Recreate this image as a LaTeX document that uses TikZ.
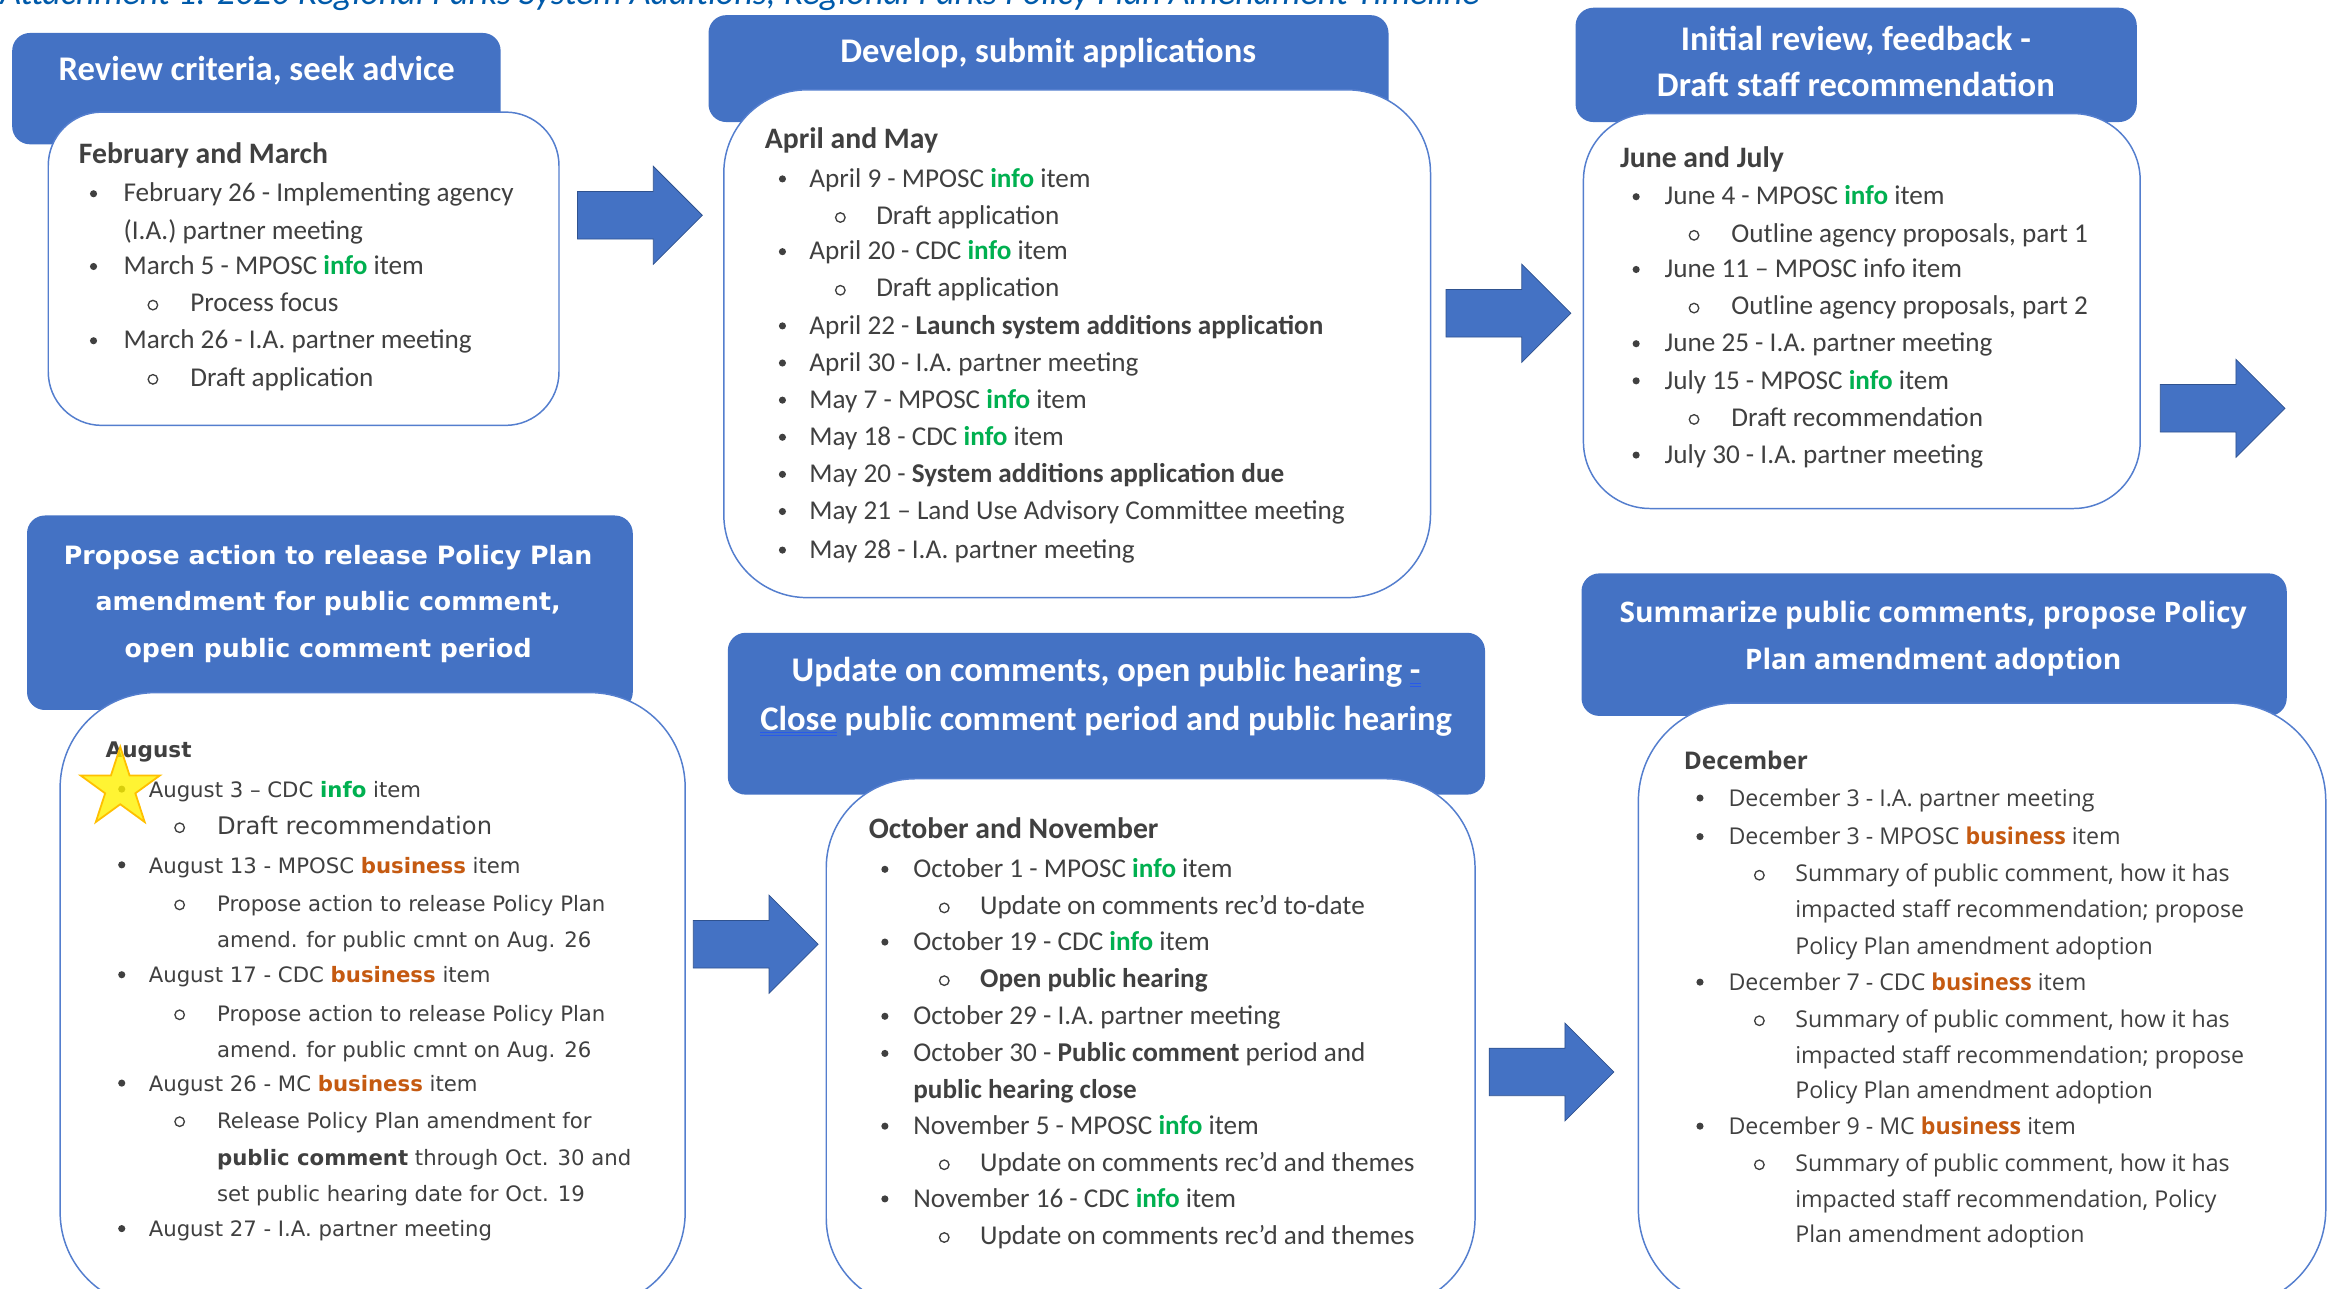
\documentclass[tikz,border=0pt]{standalone}
\usepackage{fontspec}
\setmainfont{Carlito}
\newfontfamily\verdfont{DejaVu Sans}
\newfontfamily\segfont{Open Sans}
\usetikzlibrary{shapes.geometric}
\definecolor{hdblue}{RGB}{68, 114, 196}
\definecolor{arrowedge}{RGB}{47, 82, 143}
\definecolor{boxblue}{RGB}{84, 126, 206}
\definecolor{txtgray}{RGB}{64, 64, 64}
\definecolor{infogreen}{RGB}{0, 176, 80}
\definecolor{busorange}{RGB}{197, 90, 17}
\definecolor{titleblue}{RGB}{0, 90, 170}
\definecolor{markblue}{RGB}{40, 90, 235}
\definecolor{staryellow}{RGB}{255, 242, 0}
\definecolor{stargold}{RGB}{255, 192, 0}

\newcommand{\info}{\textcolor{infogreen}{\bfseries info}}
\newcommand{\busi}{\textcolor{busorange}{\bfseries business}}
\newcommand{\fs}[1]{\fontsize{#1}{#1}\selectfont}
% blue double underline (proofing mark)
\newcommand{\dblu}[1]{\setbox0\hbox{#1}%
  \rlap{\color{markblue}\rule[-1.6pt]{\wd0}{0.8pt}}%
  \rlap{\color{markblue}\rule[-3.6pt]{\wd0}{0.8pt}}\box0\relax}

\tikzset{
  head/.style={fill=hdblue, rounded corners=12pt, inner sep=0pt, anchor=north west},
  panel/.style={fill=white, draw=boxblue, line width=1pt, inner sep=0pt, anchor=north west},
  bigarrow/.style={fill=hdblue, draw=arrowedge, line width=0.5pt},
  txt/.style={anchor=base west, inner sep=0pt, text=txtgray},
  hdtxt/.style={anchor=base, inner sep=0pt, text=white},
}

\begin{document}
\begin{tikzpicture}[x=1pt, y=-1pt]
\useasboundingbox (0,0) rectangle (1568,868);

% title line (cut off at the top)
\node[anchor=base west, inner sep=0pt, text=titleblue, font=\itshape\fs{24.2}] (title) at (0,3)
  {Attachment 1: 2020 Regional Parks System Additions, Regional Parks Policy Plan Amendment Timeline};

% headers
\node[head, minimum width=329pt, minimum height=75pt] (h1) at (8,22) {};
\node[head, minimum width=458pt, minimum height=72pt] (h2) at (477,10) {};
\node[head, minimum width=378pt, minimum height=77pt] (h3) at (1061,5) {};
\node[head, minimum width=408pt, minimum height=131pt] (h4) at (18,347) {};
\node[head, minimum width=510pt, minimum height=109pt] (h5) at (490,426) {};
\node[head, minimum width=475pt, minimum height=96pt] (h6) at (1065,386) {};

% panels
\node[panel, rounded corners=36pt, minimum width=344pt, minimum height=211pt] (p1) at (32,75) {};
\node[panel, rounded corners=56pt, minimum width=476pt, minimum height=342pt] (p2) at (487,60) {};
\node[panel, rounded corners=45pt, minimum width=375pt, minimum height=266pt] (p3) at (1066,76) {};
\node[panel, rounded corners=64pt, minimum width=421pt, minimum height=414pt] (p4) at (40,466) {};
\node[panel, rounded corners=60pt, minimum width=437pt, minimum height=356pt] (p5) at (556,524) {};
\node[panel, rounded corners=66pt, minimum width=463pt, minimum height=407pt] (p6) at (1103,473) {};

% header texts
\begin{scope}[font=\bfseries\fs{23.3}]
\node[hdtxt] (h1a) at (173,54) {Review criteria, seek advice};
\node[hdtxt] (h2a) at (706,42) {Develop, submit applications};
\node[hdtxt] (h3a) at (1250,34) {Initial review, feedback -};
\node[hdtxt] (h3b) at (1250,65) {Draft staff recommendation};
\node[hdtxt] (h5a) at (745,459) {Update on comments, open public hearing \dblu{-}};
\node[hdtxt] (h5b) at (745,492) {\dblu{Close} public comment period and public hearing};
\end{scope}
\begin{scope}[font=\verdfont\bfseries\fs{17}]
\node[hdtxt] (h4a) at (221,380) {Propose action to release Policy Plan};
\node[hdtxt] (h4b) at (221,411) {amendment for public comment,};
\node[hdtxt] (h4c) at (221,443) {open public comment period};
\end{scope}
\begin{scope}[font=\segfont\bfseries\fs{19}]
\node[hdtxt] (h6a) at (1302,419) {Summarize public comments, propose Policy};
\node[hdtxt] (h6b) at (1302,451) {Plan amendment adoption};
\end{scope}

% month headings
\node[txt, font=\bfseries\fs{20}] (m1) at (53,110) {February and March};
\node[txt, font=\bfseries\fs{20}] (m2) at (515,100) {April and May};
\node[txt, font=\bfseries\fs{20}] (m3) at (1091,113) {June and July};
\node[txt, font=\verdfont\bfseries\fs{14.5}] (m4) at (71,510) {August};
\node[txt, font=\bfseries\fs{20}] (m5) at (585,565) {October and November};
\node[txt, font=\segfont\bfseries\fs{16.4}] (m6) at (1134,518) {December};

% bullets
\foreach \x/\y in {63/136, 63/185, 63/235,
  527/126, 527/175, 527/225, 527/250, 527/275, 527/300, 527/325, 527/350, 527/376,
  1102/138, 1102/187, 1102/237, 1102/262, 1102/312,
  596/591, 596/640, 596/690, 596/715, 596/764, 596/813,
  82/537, 82/588, 82/662, 82/735, 82/833,
  1145/543, 1145/569, 1145/667, 1145/764}
  \fill[txtgray] (\x,\y-5.5) circle (2.4pt);
\foreach \x/\y in {103/210, 103/260, 566/151, 566/200,
  1141/163, 1141/212, 1141/287, 636/616, 636/665, 636/789, 636/838,
  121/562, 121/614, 121/688, 121/760, 1185/594, 1185/692, 1185/789}
  \draw[txtgray, line width=0.9pt] (\x,\y-4.5) circle (3.2pt);

% Box 1 text
\foreach \x/\y/\t [count=\i] in {83/136/{February 26 - Implementing agency},
  83/161/{(I.A.) partner meeting}, 83/185/{March 5 - MPOSC \info{} item},
  128/210/{Process focus}, 83/235/{March 26 - I.A. partner meeting},
  128/260/{Draft application}}
  \node[txt, font=\fs{18.3}] (t1-\i) at (\x,\y) {\t};

% Box 2 text
\foreach \x/\y/\t [count=\i] in {545/126/{April 9 - MPOSC \info{} item},
  590/151/{Draft application}, 545/175/{April 20 - CDC \info{} item},
  590/200/{Draft application},
  545/225/{April 22 - \textbf{Launch system additions application}},
  545/250/{April 30 - I.A. partner meeting}, 545/275/{May 7 - MPOSC \info{} item},
  545/300/{May 18 - CDC \info{} item},
  545/325/{May 20 - \textbf{System additions application due}},
  545/350/{May 21 – Land Use Advisory Committee meeting},
  545/376/{May 28 - I.A. partner meeting}}
  \node[txt, font=\fs{18.3}] (t2-\i) at (\x,\y) {\t};

% Box 3 text
\foreach \x/\y/\t [count=\i] in {1121/138/{June 4 - MPOSC \info{} item},
  1166/163/{Outline agency proposals, part 1}, 1121/187/{June 11 – MPOSC info item},
  1166/212/{Outline agency proposals, part 2}, 1121/237/{June 25 - I.A. partner meeting},
  1121/262/{July 15 - MPOSC \info{} item}, 1166/287/{Draft recommendation},
  1121/312/{July 30 - I.A. partner meeting}}
  \node[txt, font=\fs{18.3}] (t3-\i) at (\x,\y) {\t};

% Box 4 text
\foreach \x/\y/\t [count=\i] in {100/537/{August 3 – CDC \info{} item},
  100/588/{August 13 - MPOSC \busi{} item},
  146/614/{Propose action to release Policy Plan},
  146/638/{amend. for public cmnt on Aug. 26},
  100/662/{August 17 - CDC \busi{} item},
  146/688/{Propose action to release Policy Plan},
  146/712/{amend. for public cmnt on Aug. 26},
  100/735/{August 26 - MC \busi{} item},
  146/760/{Release Policy Plan amendment for},
  146/785/{\textbf{public comment} through Oct. 30 and},
  146/809/{set public hearing date for Oct. 19},
  100/833/{August 27 - I.A. partner meeting}}
  \node[txt, font=\verdfont\fs{14.3}] (t4-\i) at (\x,\y) {\t};
\node[txt, font=\verdfont\fs{16.3}] (t4-draft) at (146,562) {Draft recommendation};

% Box 5 text
\foreach \x/\y/\t [count=\i] in {615/591/{October 1 - MPOSC \info{} item},
  660/616/{Update on comments rec’d to-date}, 615/640/{October 19 - CDC \info{} item},
  660/665/{\textbf{Open public hearing}}, 615/690/{October 29 - I.A. partner meeting},
  615/715/{October 30 - \textbf{Public comment} period and},
  615/740/{\textbf{public hearing close}}, 615/764/{November 5 - MPOSC \info{} item},
  660/789/{Update on comments rec’d and themes}, 615/813/{November 16 - CDC \info{} item},
  660/838/{Update on comments rec’d and themes}}
  \node[txt, font=\fs{18.3}] (t5-\i) at (\x,\y) {\t};

% Box 6 text
\foreach \x/\y/\t [count=\i] in {1164/543/{December 3 - I.A. partner meeting},
  1164/569/{December 3 - MPOSC \busi{} item},
  1209/594/{Summary of public comment, how it has},
  1209/618/{impacted staff recommendation; propose},
  1209/643/{Policy Plan amendment adoption},
  1164/667/{December 7 - CDC \busi{} item},
  1209/692/{Summary of public comment, how it has},
  1209/716/{impacted staff recommendation; propose},
  1209/740/{Policy Plan amendment adoption},
  1164/764/{December 9 - MC \busi{} item},
  1209/789/{Summary of public comment, how it has},
  1209/813/{impacted staff recommendation, Policy},
  1209/837/{Plan amendment adoption}}
  \node[txt, font=\segfont\fs{15.6}] (t6-\i) at (\x,\y) {\t};

% star on August 3
\node[star, star points=5, star point ratio=2.618, minimum size=56pt, inner sep=0pt,
  fill=staryellow, fill opacity=0.8, draw=stargold, line width=1.2pt] (star) at (81,531) {};

% Draw block arrows
\foreach \n/\x/\y in {a1/389/145, a2/974/211, a3/1455/275, a4/467/636, a5/1003/722} {
  \coordinate (\n) at (\x,\y);
  \draw[bigarrow] (\n) ++(0,-16) -- ++(51,0) -- ++(0,-17) -- ++(33,33)
    -- ++(-33,33) -- ++(0,-17) -- ++(-51,0) -- cycle;
}
\end{tikzpicture}
\end{document}
